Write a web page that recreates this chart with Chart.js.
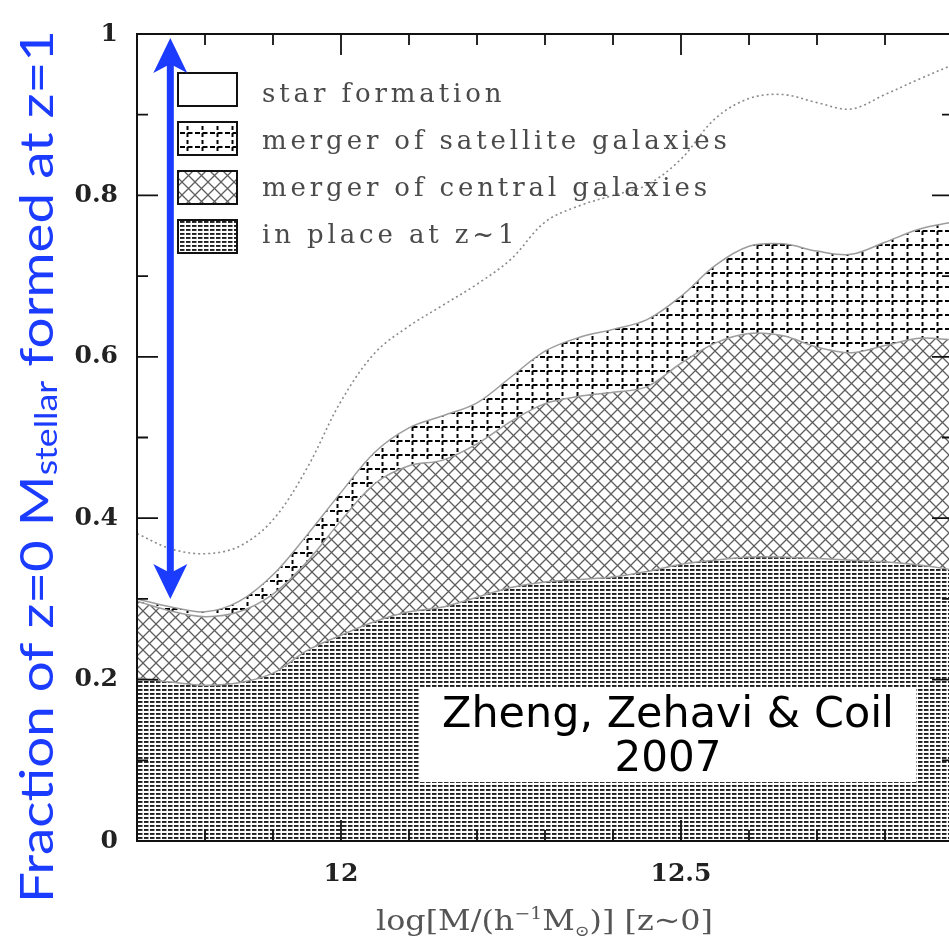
<!DOCTYPE html>
<html>
<head>
<meta charset="utf-8">
<title>Origin of z=0 stellar mass</title>
<script src="https://cdn.jsdelivr.net/npm/chart.js@4.4.1/dist/chart.umd.min.js"></script>
<style>
  html, body { margin: 0; padding: 0; background: #fff; overflow: hidden; }
  #wrap { width: 960px; height: 943px; }
</style>
</head>
<body>
<div id="wrap"><canvas id="massChart" width="960" height="943"></canvas></div>
<script>
// halo mass bins, log[M/(h^-1 Msun)] at z~0
const mass = [11.70, 11.75, 11.80, 11.85, 11.90, 11.95, 12.00, 12.05, 12.10, 12.15, 12.20, 12.25, 12.30,
              12.35, 12.40, 12.45, 12.50, 12.55, 12.60, 12.65, 12.70, 12.75, 12.80, 12.85, 12.90];

// fraction of the z=0 stellar mass coming from each channel (stacked bottom to top)
const inPlace = [0.202, 0.197, 0.193, 0.196, 0.208, 0.236, 0.255, 0.272, 0.284, 0.290, 0.302, 0.314, 0.321,
                 0.324, 0.327, 0.334, 0.343, 0.348, 0.352, 0.352, 0.350, 0.348, 0.346, 0.342, 0.336];
const centralMerger = [0.095, 0.088, 0.085, 0.088, 0.098, 0.110, 0.142, 0.171, 0.181, 0.182, 0.190, 0.206, 0.221,
                       0.227, 0.229, 0.229, 0.249, 0.269, 0.277, 0.274, 0.262, 0.257, 0.268, 0.281, 0.285];
const satelliteMerger = [0.003, 0.005, 0.006, 0.013, 0.024, 0.033, 0.035, 0.039, 0.047, 0.055, 0.051, 0.055, 0.065,
                         0.073, 0.078, 0.083, 0.083, 0.096, 0.108, 0.114, 0.119, 0.122, 0.128, 0.135, 0.146];
const starFormation = [0.700, 0.710, 0.716, 0.703, 0.670, 0.621, 0.568, 0.518, 0.488, 0.473, 0.457, 0.425, 0.393,
                       0.376, 0.366, 0.354, 0.325, 0.287, 0.263, 0.260, 0.269, 0.273, 0.258, 0.242, 0.233];
// dotted comparison curve
const dottedCurve = [0.381, 0.362, 0.356, 0.365, 0.398, 0.462, 0.545, 0.605, 0.638, 0.664, 0.690, 0.721, 0.767,
                     0.787, 0.800, 0.813, 0.845, 0.895, 0.920, 0.925, 0.915, 0.907, 0.925, 0.944, 0.962];

const xMajorTicks = [12, 12.5];
const yTicks = [0, 0.2, 0.4, 0.6, 0.8, 1];

// blue arrow marking the star-formation share at the low-mass end
const arrowX = 11.749;
const arrowTop = 0.995;
const arrowBottom = 0.300;

const BLUE = '#1b3bff';

function tile(w, h, paint) {
  const c = document.createElement('canvas');
  c.width = w; c.height = h;
  const g = c.getContext('2d');
  g.fillStyle = '#fff';
  g.fillRect(0, 0, w, h);
  paint(g);
  return g.createPattern(c, 'repeat');
}

// horizontal dashes
const inPlaceFill = tile(6, 4, g => {
  g.fillStyle = '#1e1e1e';
  g.fillRect(0, 1, 4.5, 1.9);
});
// diagonal cross-hatch
const centralFill = tile(13, 13, g => {
  g.strokeStyle = '#5e5e5e';
  g.lineWidth = 1.3;
  g.beginPath();
  g.moveTo(-1, -1); g.lineTo(14, 14);
  g.moveTo(14, -1); g.lineTo(-1, 14);
  g.stroke();
});
// dashed square grid
const satelliteFill = tile(15, 14, g => {
  g.strokeStyle = '#000';
  g.lineWidth = 2;
  g.setLineDash([4, 3]);
  g.beginPath(); g.moveTo(7.5, 0); g.lineTo(7.5, 14); g.stroke();
  g.setLineDash([5, 2.5]);
  g.beginPath(); g.moveTo(0, 7); g.lineTo(15, 7); g.stroke();
});

const pts = arr => mass.map((m, i) => ({ x: m, y: arr[i] }));
const edge = '#9c9c9c';

const datasets = [
  { label: 'in place at z~1', data: pts(inPlace), backgroundColor: inPlaceFill, borderColor: edge, borderWidth: 1.5, fill: 'origin' },
  { label: 'merger of central galaxies', data: pts(centralMerger), backgroundColor: centralFill, borderColor: edge, borderWidth: 1.5, fill: '-1' },
  { label: 'merger of satellite galaxies', data: pts(satelliteMerger), backgroundColor: satelliteFill, borderColor: edge, borderWidth: 1.5, fill: '-1' },
  { label: 'star formation', data: pts(starFormation), backgroundColor: '#ffffff', borderWidth: 0, fill: '-1' },
  { label: 'dotted', data: pts(dottedCurve), stack: 'ref', order: -1, fill: false,
    borderColor: '#8a8a8a', borderWidth: 1.6, borderDash: [2, 3] }
];

function drawRun(ctx, parts) {
  // parts: [text, font, dy]
  let x = 0;
  parts.forEach(p => {
    ctx.font = p[1];
    ctx.fillText(p[0], x, p[2] || 0);
    x += ctx.measureText(p[0]).width;
  });
  return x;
}
function runWidth(ctx, parts) {
  let w = 0;
  parts.forEach(p => { ctx.font = p[1]; w += ctx.measureText(p[0]).width; });
  return w;
}

const decor = {
  id: 'decor',
  afterDatasetsDraw(chart) {
    const { ctx, chartArea: a, scales: { x, y } } = chart;
    ctx.save();

    // citation box
    ctx.fillStyle = '#fff';
    ctx.fillRect(420, 688, 496, 94);
    ctx.fillStyle = '#000';
    ctx.textAlign = 'center';
    ctx.textBaseline = 'alphabetic';
    ctx.font = '42px "DejaVu Sans"';
    const line1 = 'Zheng, Zehavi & Coil';
    const w1 = ctx.measureText(line1).width;
    ctx.save();
    ctx.translate(668, 727);
    ctx.scale(452 / w1, 1);
    ctx.fillText(line1, 0, 0);
    ctx.restore();
    ctx.fillText('2007', 668, 771);

    // legend in the top-left corner of the plot
    const items = chart.data.datasets.slice(0, 4).reverse();
    ctx.textAlign = 'left';
    ctx.font = '26px "DejaVu Serif"';
    const natural = ctx.measureText('merger of satellite galaxies').width;
    ctx.letterSpacing = Math.max(0, (465 - natural) / 27).toFixed(2) + 'px';
    items.forEach((ds, i) => {
      const bx = a.left + 41, by = a.top + 39 + i * 49;
      ctx.fillStyle = ds.backgroundColor;
      ctx.fillRect(bx, by, 59, 33);
      ctx.strokeStyle = '#111';
      ctx.lineWidth = 2;
      ctx.strokeRect(bx, by, 59, 33);
      ctx.fillStyle = '#4a4a4a';
      ctx.fillText(ds.label, a.left + 125, a.top + 68 + i * 47);
    });
    ctx.letterSpacing = '0px';

    // double-headed arrow
    const ax = x.getPixelForValue(arrowX);
    const yt = y.getPixelForValue(arrowTop);
    const yb = y.getPixelForValue(arrowBottom);
    ctx.strokeStyle = BLUE;
    ctx.fillStyle = BLUE;
    ctx.lineWidth = 7;
    ctx.beginPath(); ctx.moveTo(ax, yt + 25); ctx.lineTo(ax, yb - 25); ctx.stroke();
    const head = (tipY, dir) => {
      ctx.beginPath();
      ctx.moveTo(ax, tipY);
      ctx.lineTo(ax + 17, tipY + dir * 35);
      ctx.lineTo(ax, tipY + dir * 26);
      ctx.lineTo(ax - 17, tipY + dir * 35);
      ctx.closePath();
      ctx.fill();
    };
    head(yt, 1);
    head(yb, -1);

    // frame with inward ticks on all four sides
    ctx.strokeStyle = '#111';
    ctx.lineWidth = 2;
    ctx.strokeRect(a.left, a.top, a.right - a.left, a.bottom - a.top);
    ctx.lineWidth = 1.8;
    ctx.beginPath();
    for (let k = 0; k <= 10; k++) {
      const py = y.getPixelForValue(k / 10);
      const len = k % 2 === 0 ? 21 : 11;
      ctx.moveTo(a.left, py); ctx.lineTo(a.left + len, py);
      ctx.moveTo(a.right, py); ctx.lineTo(a.right - len, py);
    }
    for (let k = 117; k <= 129; k++) {
      const v = k / 10;
      const px = x.getPixelForValue(v);
      const len = xMajorTicks.some(t => Math.abs(t - v) < 1e-6) ? 21 : 11;
      ctx.moveTo(px, a.bottom); ctx.lineTo(px, a.bottom - len);
      ctx.moveTo(px, a.top); ctx.lineTo(px, a.top + len);
    }
    ctx.stroke();
    ctx.restore();
  },
  afterDraw(chart) {
    const { ctx } = chart;
    ctx.save();
    ctx.textAlign = 'left';
    ctx.textBaseline = 'alphabetic';

    // x-axis title
    ctx.fillStyle = '#555';
    const xt = [
      ['log[M/(h', '27px "DejaVu Serif"', 0],
      ['\u22121', '16px "DejaVu Serif"', -11],
      ['M', '27px "DejaVu Serif"', 0],
      ['\u2299', '15px "DejaVu Serif"', 6],
      [')] [z~0]', '27px "DejaVu Serif"', 0]
    ];
    const xw = runWidth(ctx, xt);
    ctx.save();
    ctx.translate(376, 930);
    ctx.scale(337 / xw, 1);
    drawRun(ctx, xt);
    ctx.restore();

    // y-axis title, rotated
    ctx.fillStyle = BLUE;
    const yt = [
      ['Fraction of z=0 M', '46px Lato', 0],
      ['stellar', '30px Lato', 4],
      [' formed at z=1', '46px Lato', 0]
    ];
    const yw = runWidth(ctx, yt);
    ctx.save();
    ctx.translate(53, 903);
    ctx.rotate(-Math.PI / 2);
    ctx.scale(873 / yw, 1);
    drawRun(ctx, yt);
    ctx.restore();
    ctx.restore();
  }
};

const tickFont = { family: '"DejaVu Serif"', size: 25, weight: 'bold' };
const tickText = v => String(Math.round(v * 10) / 10);

new Chart(document.getElementById('massChart'), {
  type: 'line',
  data: { datasets },
  options: {
    responsive: false,
    animation: false,
    devicePixelRatio: 1,
    layout: { padding: { top: 29, right: 7, left: 0, bottom: 0 } },
    elements: { point: { radius: 0 }, line: { tension: 0.35 } },
    plugins: { legend: { display: false }, tooltip: { enabled: false } },
    scales: {
      x: {
        type: 'linear', min: 11.7, max: 12.9,
        grid: { display: false, drawTicks: false },
        border: { display: false },
        afterBuildTicks: s => { s.ticks = xMajorTicks.map(v => ({ value: v })); },
        afterFit: s => { s.height = 102; },
        ticks: { font: tickFont, color: '#222', padding: 18, maxRotation: 0, autoSkip: false, callback: tickText }
      },
      y: {
        stacked: true, min: 0, max: 1,
        grid: { display: false, drawTicks: false },
        border: { display: false },
        afterBuildTicks: s => { s.ticks = yTicks.map(v => ({ value: v })); },
        afterFit: s => { s.width = 137; },
        ticks: { font: tickFont, color: '#222', padding: 19, callback: tickText }
      }
    }
  },
  plugins: [decor]
});
</script>
</body>
</html>
